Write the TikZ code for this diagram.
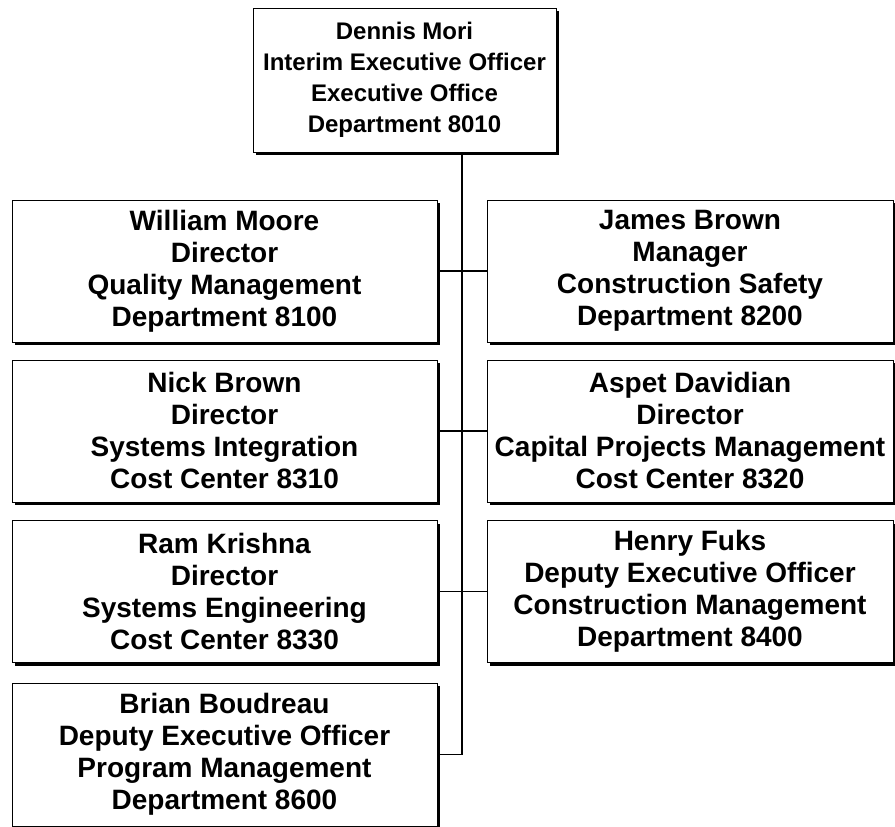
\documentclass[tikz,border=0pt]{standalone}
\usepackage{fontspec}
\setmainfont{Liberation Sans}
\usetikzlibrary{shadows}
\begin{document}
\begin{tikzpicture}[x=1pt,y=-1pt,
  box/.style={draw=black, line width=1pt, fill=white, align=center, inner sep=0pt,
    font=\bfseries\fontsize{28}{32}\selectfont,
    drop shadow={shadow xshift=3pt, shadow yshift=-3pt, fill=black, opacity=1}},
  tbox/.style={box, minimum width=303pt, minimum height=144pt,
    font=\bfseries\fontsize{24}{31}\selectfont},
  lbox/.style={box, minimum width=425pt, minimum height=142pt},
  rbox/.style={box, minimum width=406pt, minimum height=142pt},
  conn/.style={draw=black, line width=1.5pt}]
\useasboundingbox (0,0) rectangle (895,827);
\node[tbox] (top) at (404.5,80)
  {Dennis Mori\\Interim Executive Officer\\Executive Office\\Department 8010};
\node[lbox] (l1) at (224.5,271) {William Moore\\Director\\Quality Management\\Department 8100};
\node[rbox] (r1) at (690,271) {James Brown\\Manager\\Construction Safety\\Department 8200};
\node[lbox] (l2) at (224.5,431) {Nick Brown\\Director\\Systems Integration\\Cost Center 8310};
\node[rbox] (r2) at (690,431) {Aspet Davidian\\Director\\Capital Projects Management\\Cost Center 8320};
\node[lbox] (l3) at (224.5,591.5) {Ram Krishna\\Director\\Systems Engineering\\Cost Center 8330};
\node[rbox] (r3) at (690,591.5) {Henry Fuks\\Deputy Executive Officer\\Construction Management\\Department 8400};
\node[lbox, minimum height=143pt] (l4) at (224.5,754.5) {Brian Boudreau\\Deputy Executive Officer\\Program Management\\Department 8600};
\coordinate (t0) at (462,152);
\coordinate (t1) at (462,754.5);
\draw[conn] (t0) -- (t1) -- (l4.east);
\draw[conn] (l1.east) -- (r1.west);
\draw[conn] (l2.east) -- (r2.west);
\draw[conn] (l3.east) -- (r3.west);
\end{tikzpicture}
\end{document}
